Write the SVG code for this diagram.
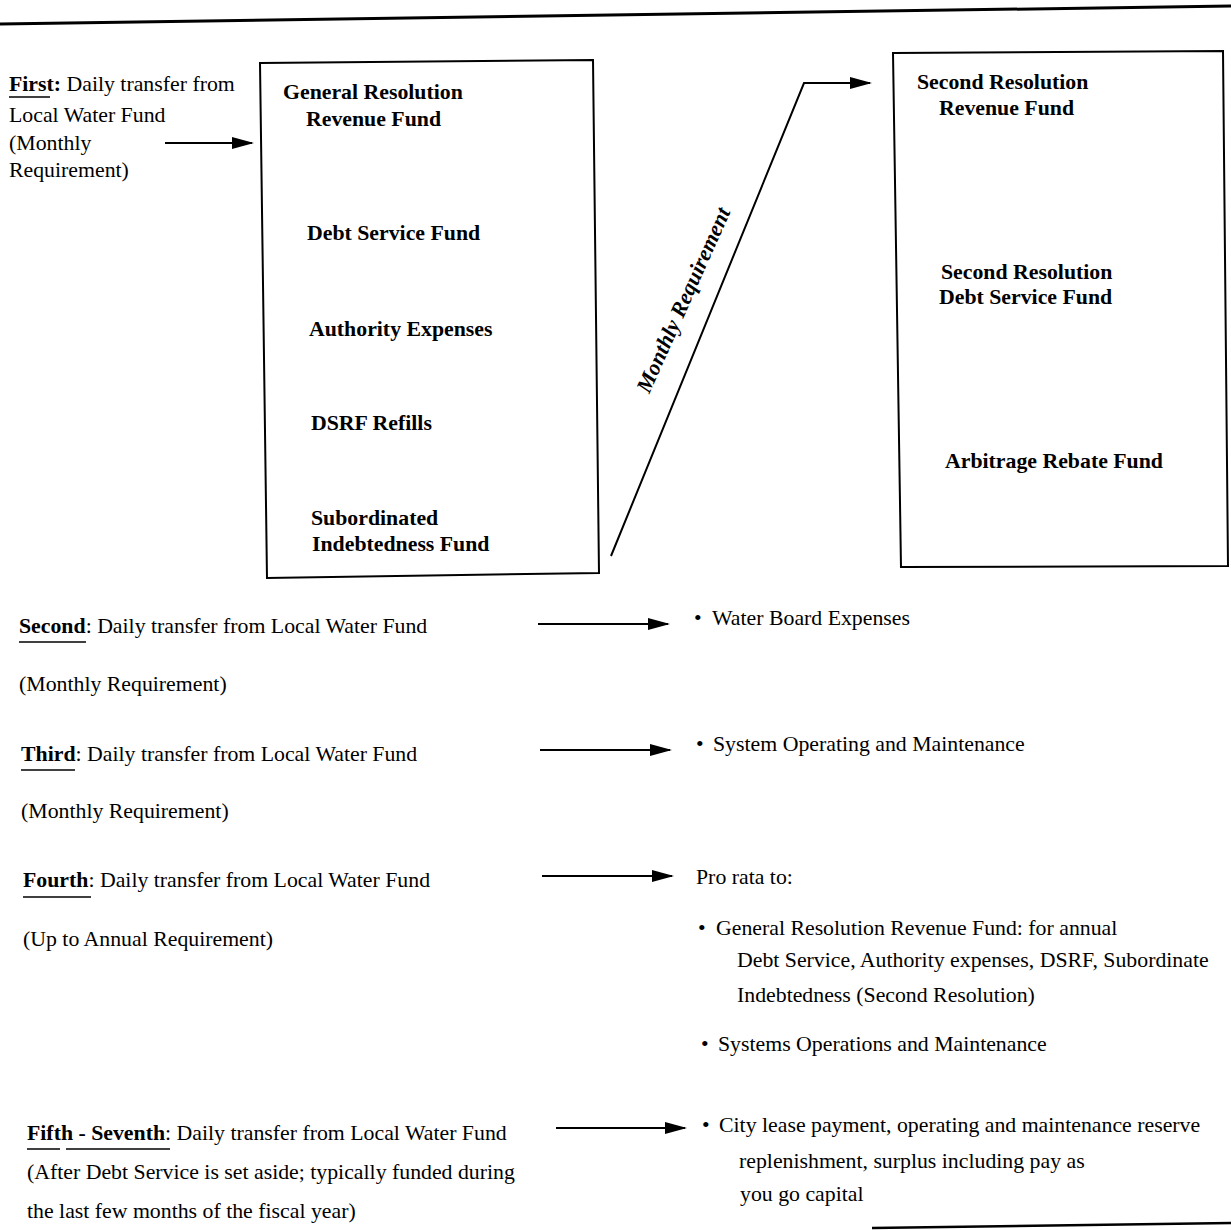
<svg xmlns="http://www.w3.org/2000/svg" width="1231" height="1230" viewBox="0 0 1231 1230">
<defs>
<marker id="ah" markerWidth="22" markerHeight="12" refX="20" refY="6" orient="auto" markerUnits="userSpaceOnUse">
<path d="M0,0 L22,6 L0,12 Z" fill="#000"/>
</marker>
<style>
text{font-family:"Liberation Serif","Times New Roman",serif;font-size:21.8px;fill:#000}
.b{font-weight:bold}
.bi{font-weight:bold;font-style:italic;font-size:22px}
.box{fill:none;stroke:#000;stroke-width:2}
.conn{fill:none;stroke:#000;stroke-width:2}
.ul{stroke:#000;stroke-width:1.5}
</style>
</defs>
<rect width="1231" height="1230" fill="#fff"/>
<line x1="0" y1="24" x2="1231" y2="6" stroke="#000" stroke-width="3"/>
<line x1="872" y1="1228" x2="1231" y2="1223" stroke="#000" stroke-width="2.5"/>

<g id="first-source">
<text x="9" y="91"><tspan class="b">First:</tspan> Daily transfer from</text>
<line class="ul" x1="9" y1="97" x2="50" y2="97"/>
<text x="9" y="122">Local Water Fund</text>
<text x="9" y="150">(Monthly</text>
<text x="9" y="177">Requirement)</text>
</g>

<g id="general-resolution-box">
<polygon class="box" points="260,63 593,60 599,573 267,578"/>
<text class="b" x="283" y="99">General Resolution</text>
<text class="b" x="306" y="126">Revenue Fund</text>
<text class="b" x="307" y="240">Debt Service Fund</text>
<text class="b" x="309" y="336">Authority Expenses</text>
<text class="b" x="311" y="430">DSRF Refills</text>
<text class="b" x="311" y="525">Subordinated</text>
<text class="b" x="312" y="551">Indebtedness Fund</text>
</g>

<g id="second-resolution-box">
<polygon class="box" points="893,53 1223,51 1228,566 901,567"/>
<text class="b" x="917" y="89">Second Resolution</text>
<text class="b" x="939" y="115">Revenue Fund</text>
<text class="b" x="941" y="279">Second Resolution</text>
<text class="b" x="939" y="304">Debt Service Fund</text>
<text class="b" x="945" y="468">Arbitrage Rebate Fund</text>
</g>

<g id="second-source">
<text x="19" y="633"><tspan class="b">Second</tspan>: Daily transfer from Local Water Fund</text>
<line class="ul" x1="19" y1="642" x2="86" y2="642"/>
<text x="19" y="691">(Monthly Requirement)</text>
</g>
<g id="third-source">
<text x="21" y="761"><tspan class="b">Third</tspan>: Daily transfer from Local Water Fund</text>
<line class="ul" x1="21" y1="770" x2="75" y2="770"/>
<text x="21" y="818">(Monthly Requirement)</text>
</g>
<g id="fourth-source">
<text x="23" y="887"><tspan class="b">Fourth</tspan>: Daily transfer from Local Water Fund</text>
<line class="ul" x1="23" y1="897" x2="91" y2="897"/>
<text x="23" y="946">(Up to Annual Requirement)</text>
</g>
<g id="fifth-seventh-source">
<text x="27" y="1140"><tspan class="b">Fifth - Seventh</tspan>: Daily transfer from Local Water Fund</text>
<line class="ul" x1="27" y1="1149" x2="60" y2="1149"/>
<line class="ul" x1="66" y1="1149" x2="170" y2="1149"/>
<text x="27" y="1179">(After Debt Service is set aside; typically funded during</text>
<text x="27" y="1218">the last few months of the fiscal year)</text>
</g>

<g id="water-board">
<text x="694" y="625">•</text>
<text x="712" y="625">Water Board Expenses</text>
</g>
<g id="system-om">
<text x="696" y="751">•</text>
<text x="713" y="751">System Operating and Maintenance</text>
</g>
<g id="pro-rata">
<text x="696" y="884">Pro rata to:</text>
<text x="698" y="935">•</text>
<text x="716" y="935">General Resolution Revenue Fund: for annual</text>
<text x="737" y="967">Debt Service, Authority expenses, DSRF, Subordinate</text>
<text x="737" y="1002">Indebtedness (Second Resolution)</text>
<text x="701" y="1051">•</text>
<text x="718" y="1051">Systems Operations and Maintenance</text>
</g>
<g id="city-lease">
<text x="702" y="1132">•</text>
<text x="719" y="1132">City lease payment, operating and maintenance reserve</text>
<text x="739" y="1168">replenishment, surplus including pay as</text>
<text x="740" y="1201">you go capital</text>
</g>

<g id="connectors">
<line class="conn" x1="165" y1="143" x2="252" y2="143" marker-end="url(#ah)"/>
<polyline class="conn" points="611,556 804,83 870,83" marker-end="url(#ah)"/>
<line class="conn" x1="538" y1="624" x2="668" y2="624" marker-end="url(#ah)"/>
<line class="conn" x1="540" y1="750" x2="670" y2="750" marker-end="url(#ah)"/>
<line class="conn" x1="542" y1="876" x2="672" y2="876" marker-end="url(#ah)"/>
<line class="conn" x1="556" y1="1128" x2="685" y2="1128" marker-end="url(#ah)"/>
<text class="bi" x="0" y="0" text-anchor="middle" transform="translate(690,303) rotate(-66)">Monthly Requirement</text>
</g>
</svg>
